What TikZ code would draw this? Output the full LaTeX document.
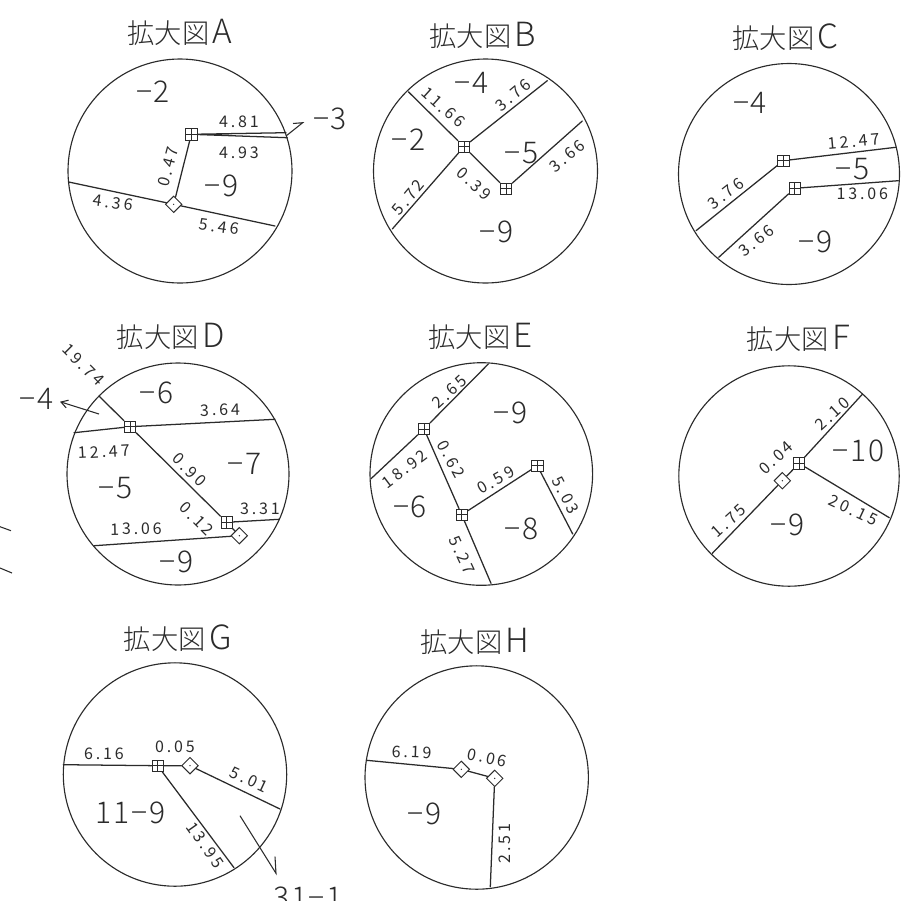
\documentclass[tikz,border=0pt]{standalone}
\usepackage{fontspec}
\setmainfont{Noto Sans CJK JP Light}
\newfontfamily\plotfont[LetterSpace=18]{Noto Sans CJK JP}
\newfontfamily\bigfont[LetterSpace=6]{Noto Sans CJK JP Light}
\newcommand{\ttlletter}[1]{\hspace{2.5pt}{\fontsize{25}{25}\selectfont #1}}
\usetikzlibrary{shapes.geometric,arrows.meta}
\definecolor{ink}{HTML}{2B2B2B}
\tikzset{
  ln/.style={draw=ink,line width=0.95pt,line cap=round},
  ring/.style={circle,draw=ink,line width=0.85pt,inner sep=0pt,minimum size=#1*0.75pt},
  sq/.style={rectangle,draw=ink,line width=0.7pt,inner sep=0pt,minimum size=8.5pt,
    path picture={\draw[ink,line width=0.55pt] (path picture bounding box.north) -- (path picture bounding box.south)
      (path picture bounding box.west) -- (path picture bounding box.east);}},
  dia/.style={diamond,draw=ink,line width=0.7pt,inner sep=0pt,minimum size=12.5pt,
    path picture={\fill[ink] (path picture bounding box.center) circle (0.55pt);}},
  ttl/.style={inner sep=0pt,text=ink,font=\fontsize{20.5}{21}\selectfont},
  big/.style={inner sep=0pt,text=ink,font=\bigfont\fontsize{22.5}{23}\selectfont},
  sm/.style={inner sep=0pt,text=ink,font=\plotfont\fontsize{12}{12}\selectfont},
  lead/.style={draw=ink,line width=0.8pt}
}
\begin{document}
\begin{tikzpicture}[x=0.75pt,y=-0.75pt]
\useasboundingbox (0,0) rectangle (923,900);
% ---------- A
\node[ttl] (ta) at (180,32) {拡大図\ttlletter{A}};
\node[ring=224] (ca) at (180,171) {};
\node[sq] (a1) at (191.3,134.3) {};
\node[dia] (a2) at (173.7,204.3) {};
\coordinate (ae1) at (286,132.7);
\coordinate (ae2) at (287.3,137.7);
\coordinate (ae3) at (68.7,182);
\coordinate (ae4) at (275,226);
\coordinate (al1) at (286,136);
\coordinate (al2) at (302.7,122.7);
\coordinate (al3) at (293,123.5);
\draw[ln] (a1) -- (ae1) (a1) -- (ae2) (a1) -- (a2) (a2) -- (ae3) (a2) -- (ae4);
\draw[lead] (al1) -- (al2) -- (al3);
\node[big] (a3) at (153,91.7) {−2};
\node[big] (a4) at (221.7,185.7) {−9};
\node[big] (a5) at (330,119) {−3};
\node[sm] (a6) at (239,121.7) {4.81};
\node[sm] (a7) at (239,152.7) {4.93};
\node[sm,rotate=75] (a8) at (168.3,166.7) {0.47};
\node[sm,rotate=-8] (a9) at (113.3,202.7) {4.36};
\node[sm,rotate=-8] (a10) at (219.3,226.7) {5.46};
% ---------- B
\node[ttl] (tb) at (482.7,35) {拡大図\ttlletter{B}};
\node[ring=224] (cb) at (485.5,171) {};
\node[sq] (b1) at (464,146.7) {};
\node[sq] (b2) at (506,188.7) {};
\coordinate (be1) at (408.3,91.7);
\coordinate (be2) at (547.3,80.7);
\coordinate (be3) at (392.3,229);
\coordinate (be4) at (582.3,121);
\draw[ln] (b1) -- (be1) (b1) -- (be2) (b1) -- (be3) (b1) -- (b2) (b2) -- (be4);
\node[big] (b3) at (471.7,82.7) {−4};
\node[big] (b4) at (408.3,139.3) {−2};
\node[big] (b5) at (521.7,153.3) {−5};
\node[big] (b6) at (496.7,231.7) {−9};
\node[sm,rotate=-42] (b7) at (443.3,107.3) {11.66};
\node[sm,rotate=40] (b8) at (513.3,95) {3.76};
\node[sm,rotate=50] (b9) at (408.3,197.3) {5.72};
\node[sm,rotate=-42] (b10) at (474,184) {0.39};
\node[sm,rotate=40] (b11) at (567.3,156) {3.66};
% ---------- C
\node[ttl] (tc) at (785.7,36.7) {拡大図\ttlletter{C}};
\node[ring=221] (cc) at (789,174) {};
\node[sq] (c1) at (783.3,160.7) {};
\node[sq] (c2) at (794.7,188.3) {};
\coordinate (ce1) at (895.7,147.3);
\coordinate (ce2) at (898.3,180.7);
\coordinate (ce3) at (696,230.7);
\coordinate (ce4) at (718.7,257.3);
\draw[ln] (c1) -- (ce1) (c1) -- (ce3) (c2) -- (ce2) (c2) -- (ce4);
\node[big] (c3) at (750,103.3) {−4};
\node[big] (c4) at (852.7,169.3) {−5};
\node[big] (c5) at (815.7,241.7) {−9};
\node[sm,rotate=5] (c6) at (854,141.7) {12.47};
\node[sm] (c7) at (862.3,194) {13.06};
\node[sm,rotate=38] (c8) at (726,193.3) {3.76};
\node[sm,rotate=38] (c9) at (756.7,240.7) {3.66};
% ---------- D
\node[ttl] (td) at (170.7,336.7) {拡大図\ttlletter{D}};
\node[ring=222] (cd) at (178,474) {};
\node[sq] (d1) at (130,426.7) {};
\node[sq] (d2) at (226.7,522.3) {};
\node[dia] (d3) at (239.3,535.7) {};
\coordinate (de1) at (99,396);
\coordinate (de2) at (275,419.3);
\coordinate (de3) at (74,432.7);
\coordinate (de4) at (279.3,519.3);
\coordinate (de5) at (94.3,545.7);
\coordinate (dl1) at (99,414);
\coordinate (dl2) at (60,401.7);
\coordinate (sx1) at (0,526.7);
\coordinate (sx2) at (11,530.7);
\coordinate (sx3) at (0,568);
\coordinate (sx4) at (12,573);
\draw[ln] (d1) -- (de1) (d1) -- (de2) (d1) -- (de3) (d1) -- (d2) (d2) -- (de4) (d2) -- (d3) (d3) -- (de5);
\draw[lead,-{Straight Barb[length=5pt,width=6pt]}] (dl1) -- (dl2);
\draw[lead] (sx1) -- (sx2) (sx3) -- (sx4);
\node[big] (d4) at (156.7,392.7) {−6};
\node[big] (d5) at (36.7,399.3) {−4};
\node[big] (d6) at (115.7,488.3) {−5};
\node[big] (d7) at (244.3,464) {−7};
\node[big] (d8) at (176.7,561.7) {−9};
\node[sm,rotate=-45] (d9) at (83.3,365) {19.74};
\node[sm,rotate=1] (d10) at (220,410) {3.64};
\node[sm,rotate=3] (d11) at (104,451.7) {12.47};
\node[sm,rotate=-45] (d12) at (189.3,470) {0.90};
\node[sm,rotate=-45] (d13) at (196.7,519) {0.12};
\node[sm] (d14) at (260,509) {3.31};
\node[sm,rotate=1] (d15) at (136,529) {13.06};
% ---------- E
\node[ttl] (te) at (480.7,336.7) {拡大図\ttlletter{E}};
\node[ring=222.6] (ce) at (481.3,474) {};
\node[sq] (e1) at (424,429) {};
\node[sq] (e2) at (461.7,514.7) {};
\node[sq] (e3) at (537.3,465.7) {};
\coordinate (ee1) at (488.3,364);
\coordinate (ee2) at (370.7,479);
\coordinate (ee3) at (491,583.3);
\coordinate (ee4) at (572.7,534);
\draw[ln] (e1) -- (ee1) (e1) -- (ee2) (e1) -- (e2) (e2) -- (ee3) (e2) -- (e3) (e3) -- (ee4);
\node[big] (e4) at (510.7,413.3) {−9};
\node[big] (e5) at (410,506.7) {−6};
\node[big] (e6) at (521.7,529) {−8};
\node[sm,rotate=42] (e7) at (449.3,391.7) {2.65};
\node[sm,rotate=-62] (e8) at (451,459) {0.62};
\node[sm,rotate=37] (e9) at (405,469) {18.92};
\node[sm,rotate=30] (e10) at (495.7,480) {0.59};
\node[sm,rotate=-62] (e11) at (565.7,495) {5.03};
\node[sm,rotate=-65] (e12) at (462.3,555) {5.27};
% ---------- F
\node[ttl] (tf) at (798.3,338.3) {拡大図\ttlletter{F}};
\node[ring=220.4] (cf) at (789,476) {};
\node[sq] (f1) at (799,463.3) {};
\node[dia] (f2) at (782.3,480.7) {};
\coordinate (fe1) at (862.3,394.3);
\coordinate (fe2) at (889.3,517.7);
\coordinate (fe3) at (712.3,553.3);
\draw[ln] (f1) -- (fe1) (f1) -- (fe2) (f1) -- (f2) (f2) -- (fe3);
\node[big] (f3) at (858.3,451) {−10};
\node[big] (f4) at (787.3,525) {−9};
\node[sm,rotate=42] (f5) at (832.7,414) {2.10};
\node[sm,rotate=42] (f6) at (776,457.7) {0.04};
\node[sm,rotate=-25] (f7) at (853.3,510) {20.15};
\node[sm,rotate=42] (f8) at (729,520.7) {1.75};
% ---------- G
\node[ttl] (tg) at (177.7,638.3) {拡大図\ttlletter{G}};
\node[ring=223.4] (cg) at (175,774.5) {};
\node[sq] (g1) at (157.7,765.7) {};
\node[dia] (g2) at (190,765.7) {};
\coordinate (ge1) at (63.3,764.7);
\coordinate (ge2) at (280,809);
\coordinate (ge3) at (234,867.7);
\coordinate (gl1) at (240,815.7);
\coordinate (gl2) at (276,873.3);
\coordinate (gl3) at (275,856.7);
\draw[ln] (g1) -- (ge1) (g1) -- (ge3) (g1) -- (g2) (g2) -- (ge2);
\draw[lead] (gl1) -- (gl2) -- (gl3);
\node[big] (g3) at (130.7,813.3) {11−9};
\node[big] (g4) at (308,898) {31−1};
\node[sm] (g5) at (104,753.3) {6.16};
\node[sm] (g6) at (175,746.7) {0.05};
\node[sm,rotate=-25] (g7) at (249.3,780) {5.01};
\node[sm,rotate=-55] (g8) at (205,845) {13.95};
% ---------- H
\node[ttl] (th) at (475,641.7) {拡大図\ttlletter{H}};
\node[ring=223.4] (ch) at (476.7,777.5) {};
\node[dia] (h1) at (461.3,769.3) {};
\node[dia] (h2) at (494.7,778.3) {};
\coordinate (he1) at (366.7,760.3);
\coordinate (he2) at (490.3,886.7);
\draw[ln] (h1) -- (he1) (h1) -- (h2) (h2) -- (he2);
\node[big] (h3) at (424.3,814) {−9};
\node[sm,rotate=-2] (h4) at (411.7,752.3) {6.19};
\node[sm,rotate=-12] (h5) at (487.3,757.7) {0.06};
\node[sm,rotate=90] (h6) at (505,843.3) {2.51};
\end{tikzpicture}
\end{document}
